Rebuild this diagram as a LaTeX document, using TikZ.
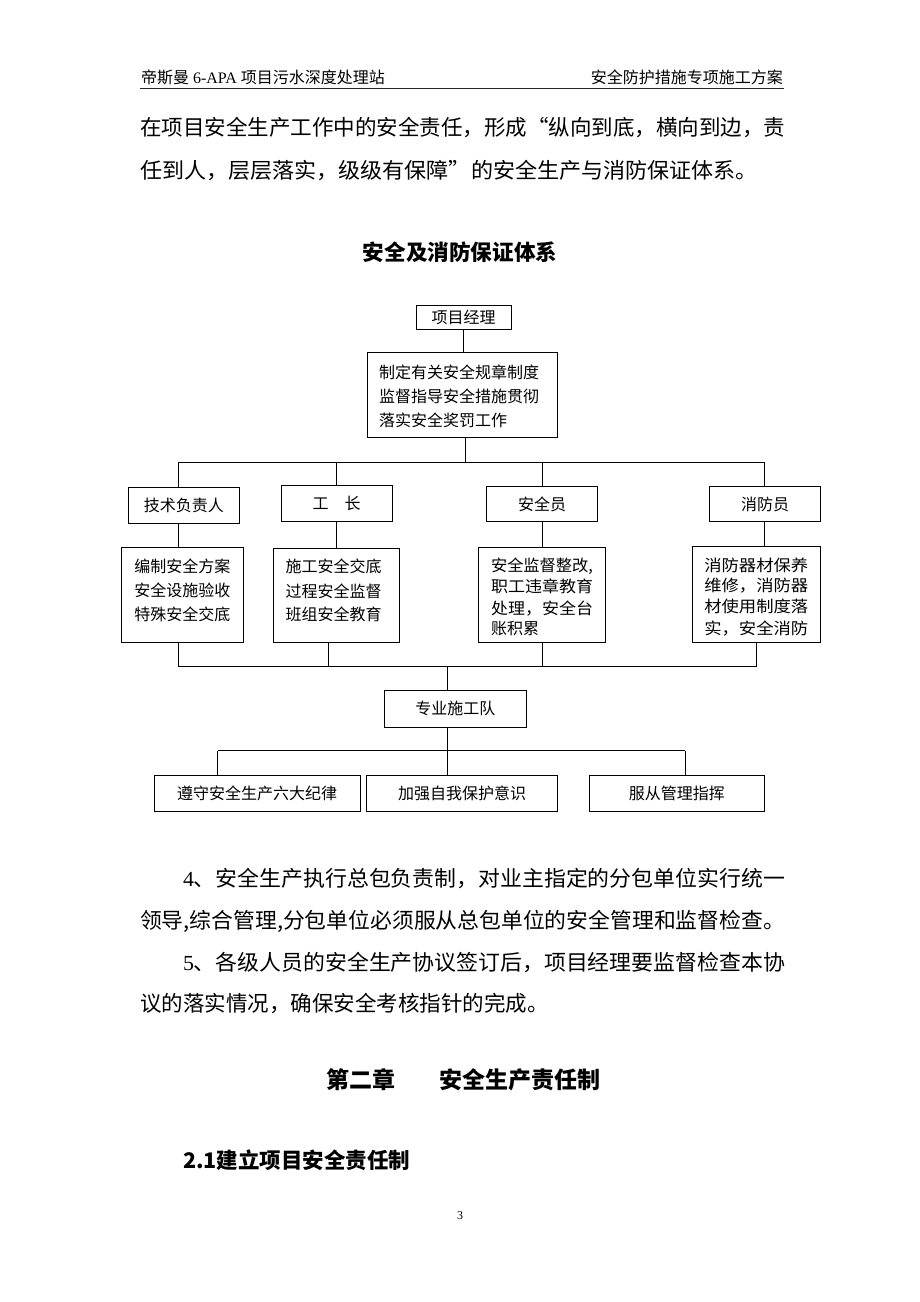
\documentclass[tikz,border=0pt]{standalone}
\usepackage{fontspec}
\usepackage{graphicx}
\setmainfont{Liberation Serif}
\newfontfamily\cjk{Noto Sans CJK SC}
\newcommand\fs[1]{\fontsize{#1pt}{#1pt}\selectfont}
\newcommand\fitw[2]{\resizebox{#1pt}{\height}{#2}}
\begin{document}
\begin{tikzpicture}[x=1pt,y=-1pt,
  tl/.style={anchor=base west,inner sep=0pt,outer sep=0pt},
  box/.style={draw=black,line width=1pt,inner sep=0pt,font=\cjk\fs{16},
    text height=13.3pt,text depth=1.1pt},
  conn/.style={draw=black,line width=1pt}]
\useasboundingbox[fill=white] (0,0) rectangle (920,1302);

% header
\node[tl] (hl) at (141,83.1) {\fs{16}{\cjk 帝斯曼} 6-APA {\cjk 项目污水深度处理站}};
\node[anchor=base east,inner sep=0pt] (hr) at (783,83.1) {\cjk\fs{16}安全防护措施专项施工方案};
\draw[line width=1.6pt,black!85] (140,88.5) -- (784,88.5);

% body text
\node[tl] (t1) at (140,135.2) {\cjk\fs{21.5}\fitw{645}{在项目安全生产工作中的安全责任，形成“纵向到底，横向到边，责}};
\node[tl] (t2) at (140,178.2) {\cjk\fs{21.5}\fitw{618}{任到人，层层落实，级级有保障”的安全生产与消防保证体系。}};
\node[anchor=base,inner sep=0pt] (title) at (460,260.2) {\cjk\bfseries\fs{21.6}安全及消防保证体系};

% chart boxes
\node[box,minimum width=95pt,minimum height=24pt] (pm) at (463.5,317.1) {项目经理};
\node[box,minimum width=190pt,minimum height=85pt] (duty) at (462.3,395.2) {};
\node[tl] (d1) at (379,378.1) {\cjk\fs{16}制定有关安全规章制度};
\node[tl] (d2) at (379,402.1) {\cjk\fs{16}监督指导安全措施贯彻};
\node[tl] (d3) at (379,426.1) {\cjk\fs{16}落实安全奖罚工作};

\node[box,minimum width=111pt,minimum height=35.6pt] (tech) at (183.8,505.5) {技术负责人};
\node[box,minimum width=111pt,minimum height=35.6pt] (gz) at (336.5,503.5) {工　长};
\node[box,minimum width=111pt,minimum height=35.3pt] (aqy) at (542.2,504.3) {安全员};
\node[box,minimum width=111pt,minimum height=35.3pt] (xfy) at (765.2,504.3) {消防员};

\node[box,minimum width=121.3pt,minimum height=95.4pt] (tech2) at (182.35,595) {};
\node[tl] at (134.3,572.8) {\cjk\fs{16}编制安全方案};
\node[tl] at (134.3,596.1) {\cjk\fs{16}安全设施验收};
\node[tl] at (134.3,620.1) {\cjk\fs{16}特殊安全交底};

\node[box,minimum width=126.3pt,minimum height=94.4pt] (gz2) at (336.15,595.5) {};
\node[tl] at (285.7,572.8) {\cjk\fs{16}施工安全交底};
\node[tl] at (285.7,597.1) {\cjk\fs{16}过程安全监督};
\node[tl] at (285.7,620.1) {\cjk\fs{16}班组安全教育};

\node[box,minimum width=127pt,minimum height=95pt] (aqy2) at (542.2,595.2) {};
\node[tl] at (491,571.8) {\cjk\fs{16}\fitw{102}{安全监督整改,}};
\node[tl] at (491,592.8) {\cjk\fs{16}\fitw{102}{职工违章教育}};
\node[tl] at (491,614.4) {\cjk\fs{16}\fitw{102}{处理，安全台}};
\node[tl] at (491,634.8) {\cjk\fs{16}账积累};

\node[box,minimum width=128.4pt,minimum height=96.7pt] (xfy2) at (756.5,594.35) {};
\node[tl] at (704.3,571.1) {\cjk\fs{16}\fitw{104}{消防器材保养}};
\node[tl] at (704.3,591.8) {\cjk\fs{16}\fitw{104}{维修，消防器}};
\node[tl] at (704.3,612.8) {\cjk\fs{16}\fitw{104}{材使用制度落}};
\node[tl] at (704.3,634.8) {\cjk\fs{16}\fitw{104}{实，安全消防}};

\node[box,minimum width=142.7pt,minimum height=36.3pt] (team) at (455.35,708.85) {专业施工队};
\node[box,minimum width=206.3pt,minimum height=36.3pt] (b1) at (257.15,793.15) {遵守安全生产六大纪律};
\node[box,minimum width=190.6pt,minimum height=36.3pt] (b2) at (462,793.15) {加强自我保护意识};
\node[box,minimum width=175pt,minimum height=36.3pt] (b3) at (676.8,793.15) {服从管理指挥};

% bus coordinates
\coordinate (jd) at (465.7,462.3);
\coordinate (tb1) at (178.3,462.3);
\coordinate (tb2) at (336.7,462.3);
\coordinate (tb3) at (542.7,462.3);
\coordinate (tb4) at (764,462.3);
\coordinate (bb1) at (178.3,666);
\coordinate (bb2) at (328.7,666);
\coordinate (bb3) at (542.7,666);
\coordinate (bb4) at (756.7,666);
\coordinate (bt) at (447.3,666);
\coordinate (lb1) at (217.7,750.7);
\coordinate (lb2) at (447.3,750.7);
\coordinate (lb3) at (685,750.7);

% connectors
\draw[conn] (pm.south) -- (pm.south |- duty.north);
\draw[conn] (duty.south -| jd) -- (jd);
\draw[conn] (tb1) -- (tb4);
\draw[conn] (tb1) -- (tb1 |- tech.north);
\draw[conn] (tb2) -- (tb2 |- gz.north);
\draw[conn] (tb3) -- (tb3 |- aqy.north);
\draw[conn] (tb4) -- (tb4 |- xfy.north);
\draw[conn] (tech.south -| tb1) -- (tb1 |- tech2.north);
\draw[conn] (gz.south -| tb2) -- (tb2 |- gz2.north);
\draw[conn] (aqy.south -| tb3) -- (tb3 |- aqy2.north);
\draw[conn] (xfy.south -| tb4) -- (tb4 |- xfy2.north);
\draw[conn] (tech2.south -| bb1) -- (bb1);
\draw[conn] (gz2.south -| bb2) -- (bb2);
\draw[conn] (aqy2.south -| bb3) -- (bb3);
\draw[conn] (xfy2.south -| bb4) -- (bb4);
\draw[conn] (bb1) -- (bb4);
\draw[conn] (bt) -- (bt |- team.north);
\draw[conn] (team.south -| lb2) -- (lb2);
\draw[conn] (lb1) -- (lb3);
\draw[conn] (lb1) -- (lb1 |- b1.north);
\draw[conn] (lb2) -- (lb2 |- b2.north);
\draw[conn] (lb3) -- (lb3 |- b3.north);

% lower text
\node[tl] (p4a) at (183,886.2) {\fitw{602}{\fs{21.5}4{\cjk 、安全生产执行总包负责制，对业主指定的分包单位实行统一}}};
\node[tl] (p4b) at (140,928.2) {\cjk\fs{21.5}\fitw{645}{领导,综合管理,分包单位必须服从总包单位的安全管理和监督检查。}};
\node[tl] (p5a) at (183,970.2) {\fitw{602}{\fs{21.5}5{\cjk 、各级人员的安全生产协议签订后，项目经理要监督检查本协}}};
\node[tl] (p5b) at (140,1011.2) {\cjk\fs{21.5}议的落实情况，确保安全考核指针的完成。};
\node[tl] (ch) at (326,1088.7) {\cjk\bfseries\fs{23}第二章\hspace{45pt}安全生产责任制};
\node[tl] (sec) at (183,1168.2) {\cjk\bfseries\fs{21.5}\fitw{227}{2.1建立项目安全责任制}};
\node[anchor=base,inner sep=0pt] (pg) at (460,1219) {\fs{12}3};
\end{tikzpicture}
\end{document}
